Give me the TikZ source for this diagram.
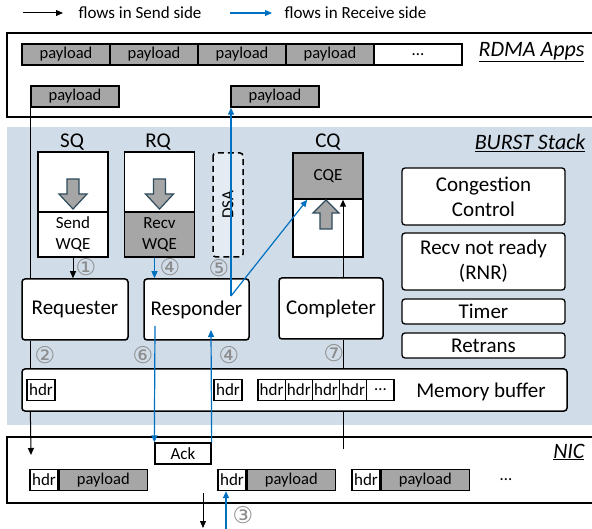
\documentclass[tikz,border=0pt]{standalone}
\usepackage{fontspec}
\setmainfont{Carlito}
\newfontfamily\circfont{DejaVu Sans}
\usepackage{xcolor}
\usepackage{tikz}
\usetikzlibrary{arrows.meta,calc}
\definecolor{stackbg}{HTML}{D0DCE8}
\definecolor{boxgrey}{HTML}{A6A6A6}
\definecolor{rcvblue}{HTML}{0070C0}
\definecolor{arrdark}{HTML}{2E4B5C}
\definecolor{dsabg}{HTML}{E4EBF3}
\definecolor{numgrey}{HTML}{8C8C8C}

\begin{document}
\begin{tikzpicture}[
  x=1pt,y=-1pt,
  every node/.style={font=\fontsize{17}{21}\selectfont},
  cell/.style={draw,line width=1.3pt,inner sep=0pt,minimum height=21pt},
  pl/.style={cell,fill=boxgrey,minimum width=88pt,font=\fontsize{16.5}{18}\selectfont},
  hd/.style={cell,fill=white,minimum width=28pt},
  blk/.style={draw,line width=1.5pt,rounded corners=3pt,fill=white,inner sep=0pt,align=center,font=\fontsize{21}{25}\selectfont},
  side/.style={blk,line width=1.3pt,minimum width=163pt},
  qbox/.style={draw,line width=1.5pt,inner sep=0pt,minimum width=70pt,align=center},
  qlbl/.style={font=\fontsize{21}{24}\selectfont},
  frame/.style={line width=1.8pt},
  tag/.style={anchor=east,font=\fontsize{22}{24}\selectfont\itshape},
  num/.style={inner sep=0pt,text=numgrey,font=\circfont\fontsize{23}{23}\selectfont},
  fatarr/.style={draw=arrdark,fill=boxgrey,line width=1.2pt},
  sendln/.style={line width=1pt},
  sendarr/.style={sendln,-{Triangle[length=7pt,width=6pt]}},
  recvarr/.style={line width=1.2pt,rcvblue,-{Triangle[length=7pt,width=6pt]}}
]
\useasboundingbox (0,0) rectangle (592,529);

\node[anchor=north west,fill=stackbg,minimum width=585pt,minimum height=298pt,inner sep=0pt] (stack) at (7,127) {};
\draw[frame] (592,33) -| (7,117) -- (592,117);
\draw[frame] (592,437) -| (7,503) -- (592,503);

\coordinate (lgsend) at (23,13);
\node[anchor=west] (lgsendtxt) at (75,13) {flows in Send side};
\draw[sendarr] (lgsend) -- ++(40,0);
\coordinate (lgrecv) at (230,13);
\node[anchor=west] (lgrecvtxt) at (281,13) {flows in Receive side};
\draw[recvarr] (lgrecv) -- ++(42,0);

\foreach \i/\cx in {1/66,2/154,3/242,4/330}
  \node[pl] (app\i) at (\cx,54.5) {payload};
\node[cell,fill=white,minimum width=88pt] (appdots) at (418,54.5) {…};
\node[tag] (apptag) at (588,52) {\underline{RDMA Apps}};
\node[pl] (pay1) at (75,96.5) {payload};
\node[pl] (pay2) at (275,96.5) {payload};

\node[tag] (stacktag) at (589,143) {\underline{BURST Stack}};
\node[qlbl] (sqlbl) at (72,142) {SQ};
\node[qlbl] (rqlbl) at (158,142) {RQ};
\node[qlbl] (cqlbl) at (328,142) {CQ};

\node[qbox,fill=white,minimum height=60pt] (sqtop) at (73,182) {};
\node[qbox,fill=white,minimum height=45pt] (sqwqe) at (73,234.5) {Send\\WQE};
\node[qbox,fill=white,minimum height=60pt] (rqtop) at (159.5,182) {};
\node[qbox,fill=boxgrey,minimum height=45pt] (rqwqe) at (159.5,234.5) {Recv\\WQE};
\node[qbox,fill=boxgrey,minimum height=46pt] (cqe) at (328,176) {CQE};
\node[qbox,fill=white,minimum height=58pt] (cqlow) at (328,228) {};
\node[draw,dash pattern=on 6pt off 4pt,line width=1.5pt,rounded corners=3pt,fill=dsabg,
  rotate=90,minimum width=104pt,minimum height=30pt,inner sep=0pt] (dsa) at (228,205) {DSA};

\foreach \ax in {73,159.5}
  \draw[fatarr] (\ax-6,179) -- (\ax+6,179) -- (\ax+6,194) -- (\ax+14,194) -- (\ax,209) -- (\ax-14,194) -- (\ax-6,194) -- cycle;
\draw[fatarr] (320,229) -- (332,229) -- (332,213) -- (339,213) -- (326,200) -- (313,213) -- (320,213) -- cycle;

\node[side,minimum height=57pt] (cc) at (483.5,196.5) {Congestion\\Control};
\node[side,minimum height=57pt] (rnr) at (483.5,261.5) {Recv not ready\\(RNR)};
\node[side,minimum height=25pt] (timer) at (483.5,311.5) {Timer};
\node[side,minimum height=25pt] (retrans) at (483.5,345.5) {Retrans};

\node[blk,minimum width=106pt,minimum height=61pt] (req) at (75,309.5) {Requester};
\node[blk,minimum width=105pt,minimum height=61pt] (resp) at (196.5,309.5) {Responder};
\node[blk,minimum width=104pt,minimum height=61pt] (compl) at (331,308.5) {Completer};

\node[blk,minimum width=545pt,minimum height=42pt] (mem) at (294.5,390) {};
\node[font=\fontsize{21}{24}\selectfont] (memtxt) at (481,392) {Memory buffer};
\node[hd] (mh0) at (41,390) {hdr};
\node[hd] (mh1) at (228,390) {hdr};
\foreach \i/\t in {1/hdr,2/hdr,3/hdr,4/hdr,5/…}
  \node[hd,minimum width=27.2pt] (mq\i) at (258+27.2*\i-13.6,390) {\t};

\node[tag] (nictag) at (588,452) {\underline{NIC}};
\node[cell,fill=white,minimum width=56pt] (ack) at (183,453.5) {Ack};
\foreach \i/\hx in {1/44,2/232,3/366} {
  \node[hd] (pkh\i) at (\hx,480) {hdr};
  \node[pl,anchor=west] (pkp\i) at (pkh\i.east) {payload};
}
\node (pkdots) at (506,480) {…};

\coordinate (nicsend) at (31,455);
\draw[sendln] (pay1.south west) -- (pay1.south west |- req.north);
\draw[sendln] (req.south -| pay1.south west) -- (mem.north -| pay1.south west);
\draw[sendarr] (mem.south -| pay1.south west) -- (nicsend);
\draw[sendarr] (sqwqe.south) -- (sqwqe.south |- req.north);
\coordinate (niccq) at (343,449);
\draw[sendln] (niccq) -- (niccq |- mem.south);
\draw[sendln] (mem.north -| niccq) -- (compl.south -| niccq);
\draw[sendarr] (compl.north -| niccq) -- (cqe.south -| niccq);
\coordinate (wireout) at (203,493);
\draw[sendarr] (wireout) -- ++(0,35);

\coordinate (rqout) at ($(rqwqe.south)+(-5,0)$);
\draw[recvarr] (rqout) -- (rqout |- resp.north);
\coordinate (dsapt) at (231,296);
\draw[recvarr] (dsapt) -- (dsapt |- pay2.south);
\draw[recvarr] (dsapt) -- ($(cqe.south west)+(15,0)$);
\coordinate (respout) at (155,326);
\draw[recvarr] (respout) -- (ack.north west);
\coordinate (respin) at (211,330);
\draw[recvarr] (ack.north east) -- (respin);
\coordinate (wirein) at (226,529);
\draw[recvarr] (wirein) -- (wirein |- pkh2.south);

\node[num] (n1) at (86,267) {①};
\node[num] (n4a) at (170,267) {④};
\node[num] (n5) at (219,268) {⑤};
\node[num] (n2) at (45,355) {②};
\node[num] (n6) at (143,355) {⑥};
\node[num] (n4b) at (229,355) {④};
\node[num] (n7) at (334,353) {⑦};
\node[num] (n3) at (243,515) {③};
\end{tikzpicture}
\end{document}
